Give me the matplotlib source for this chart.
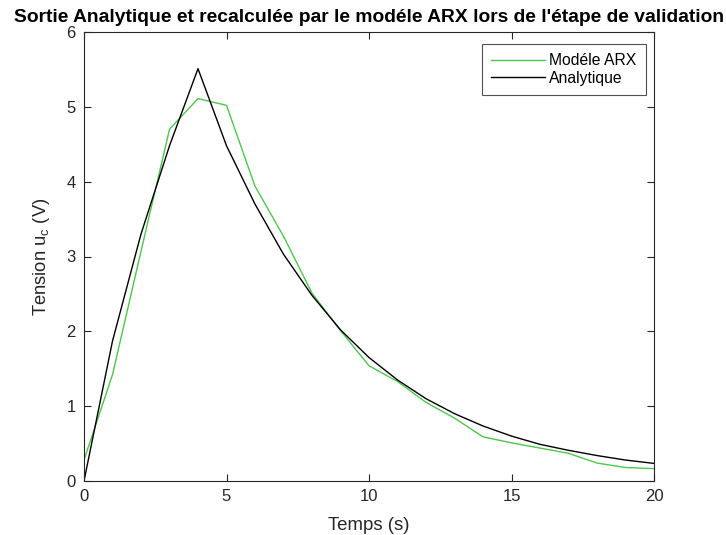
import matplotlib
matplotlib.use("Agg")
import matplotlib.pyplot as plt

plt.rcParams['font.family'] = ['Liberation Sans', 'DejaVu Sans']
plt.rcParams['mathtext.fontset'] = 'custom'
plt.rcParams['mathtext.rm'] = 'Liberation Sans'

# Time samples (s)
temps = list(range(0, 21))

# Output recomputed by the ARX model
arx = [0.28, 1.42, 3.07, 4.70, 5.11, 5.02, 3.94, 3.27, 2.51, 2.01, 1.54,
       1.33, 1.05, 0.84, 0.59, 0.51, 0.44, 0.37, 0.24, 0.18, 0.165]

# Analytic output
analytique = [0.0, 1.87, 3.30, 4.48, 5.51, 4.48, 3.70, 3.03, 2.48, 2.02, 1.65,
              1.35, 1.10, 0.90, 0.735, 0.60, 0.49, 0.41, 0.34, 0.28, 0.235]

xticks = [0, 5, 10, 15, 20]
yticks = [0, 1, 2, 3, 4, 5, 6]

fig = plt.figure(figsize=(7.26, 5.35), dpi=100)
ax = fig.add_axes([84/726, 1 - 481/535, 570/726, 449/535])

ax.plot(temps, arx, color=(0.30, 0.78, 0.30), lw=1.0, label='Modéle ARX')
ax.plot(temps, analytique, color='black', lw=1.0, label='Analytique')

ax.set_xlim(0, 20)
ax.set_ylim(0, 6)
ax.set_xticks(xticks)
ax.set_yticks(yticks)
ax.tick_params(direction='in', length=5, width=0.8, labelsize=12, pad=6,
               top=True, right=True, colors='#262626', labelcolor='#262626')
for s in ax.spines.values():
    s.set_color('#262626')
    s.set_linewidth(0.8)

ax.set_title("Sortie Analytique et recalculée par le modéle ARX lors de l'étape de validation",
             fontsize=13.9, fontweight='bold', pad=7)
ax.set_xlabel('Temps (s)', fontsize=13.4, color='#262626', labelpad=9)
ax.set_ylabel(r'Tension u$_{\mathrm{c}}$ (V)', fontsize=13.2, color='#262626', labelpad=10)

leg = ax.legend(loc='upper right', fontsize=11.3, frameon=True, fancybox=False,
                edgecolor='#262626', handlelength=3.4, handletextpad=0.3,
                borderpad=0.6, labelspacing=0.15, borderaxespad=0,
                bbox_to_anchor=(646/570 - 84/570, 1 - 12/449))
leg.get_frame().set_linewidth(0.8)

fig.savefig('out.png', dpi=100)
